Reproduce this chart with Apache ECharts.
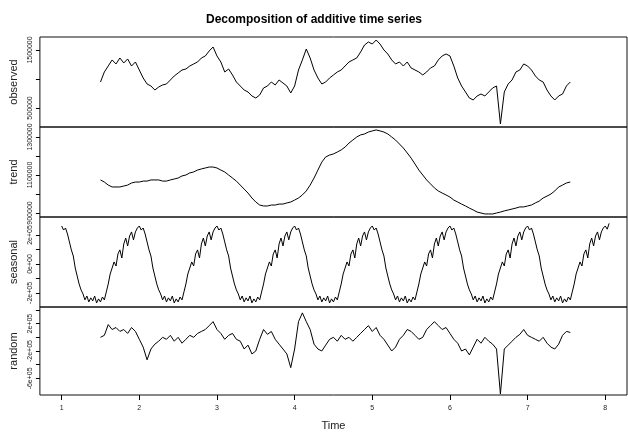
<!DOCTYPE html>
<html>
<head>
<meta charset="utf-8">
<script src="https://cdn.jsdelivr.net/npm/echarts@6/dist/echarts.min.js"></script>
<style>html,body{margin:0;padding:0;background:#fff;}#c{width:628px;height:432px;}</style>
</head>
<body>
<div id="c"></div>
<script>
// time settings
var obsStart = 1.5, obsFreq = 20;
var seasStart = 1.0, seasFreq = 40;

// observed (step 1/20 from 1.5)
var observed = [948000,1121000,1224000,1328000,1259000,1362000,1276000,1345000,1224000,1293000,
1155000,1017000,914000,879000,810000,862000,897000,914000,983000,1052000,
1103000,1155000,1172000,1224000,1259000,1293000,1362000,1397000,1483000,1552000,
1397000,1293000,1121000,1172000,1069000,948000,879000,810000,776000,707000,
672000,724000,845000,879000,948000,897000,983000,931000,879000,759000,
879000,1155000,1328000,1517000,1362000,1155000,1017000,914000,948000,1017000,
1069000,1121000,1155000,1224000,1293000,1328000,1362000,1466000,1586000,1638000,
1603000,1672000,1603000,1500000,1431000,1328000,1259000,1293000,1224000,1293000,
1190000,1155000,1121000,1069000,1121000,1190000,1224000,1328000,1397000,1431000,
1397000,1224000,1017000,879000,776000,672000,638000,707000,741000,707000,
776000,845000,879000,224000,776000,914000,983000,1121000,1155000,1259000,
1224000,1155000,1052000,983000,948000,810000,707000,638000,707000,741000,
879000,948000];

var trend = [1074000,1063000,1047000,1037000,1037000,1037000,1042000,1047000,1058000,1063000,
1063000,1068000,1068000,1074000,1074000,1074000,1068000,1068000,1074000,1079000,
1084000,1095000,1100000,1111000,1116000,1126000,1132000,1137000,1142000,1142000,
1137000,1126000,1116000,1100000,1084000,1068000,1047000,1026000,1005000,979000,
958000,942000,937000,937000,942000,942000,947000,947000,953000,958000,
968000,979000,995000,1016000,1047000,1084000,1126000,1168000,1195000,1205000,
1211000,1221000,1232000,1247000,1268000,1284000,1300000,1311000,1316000,1326000,
1332000,1337000,1332000,1326000,1316000,1300000,1284000,1263000,1242000,1216000,
1189000,1158000,1126000,1100000,1074000,1053000,1032000,1016000,1005000,995000,
984000,968000,958000,947000,937000,926000,916000,905000,900000,895000,
895000,895000,900000,905000,911000,916000,921000,926000,932000,932000,
937000,942000,953000,963000,979000,989000,1000000,1016000,1037000,1047000,
1058000,1063000];

// one seasonal cycle (40 values), repeated for each year
var seasonalCycle = [262000,234000,248000,207000,152000,97000,55000,-28000,-83000,-138000,
-179000,-207000,-248000,-221000,-262000,-234000,-255000,-221000,-269000,-241000,
-262000,-228000,-248000,-193000,-138000,-69000,-28000,14000,-14000,69000,
97000,41000,138000,179000,124000,193000,221000,166000,221000,248000];
var seasonalYears = 7;
var seasonalTail = [262000,240000,280000];

var random = [0,29000,186000,114000,143000,86000,114000,57000,143000,86000,
-29000,-143000,-329000,-171000,-100000,-57000,0,-29000,29000,-57000,
0,-86000,-29000,29000,0,57000,86000,114000,171000,229000,
114000,57000,-29000,29000,57000,-29000,-57000,-171000,-114000,-243000,
-200000,-29000,114000,43000,86000,-29000,-100000,-171000,-243000,-443000,
-171000,229000,357000,229000,114000,-100000,-171000,-200000,-114000,-29000,
0,-57000,29000,-29000,0,-57000,0,57000,114000,171000,
86000,143000,29000,-29000,-114000,-200000,-143000,-29000,29000,114000,
86000,29000,-29000,0,114000,171000,229000,171000,114000,143000,
57000,-29000,-86000,-200000,-171000,-257000,-143000,-29000,-86000,0,
-57000,-100000,-171000,-829000,-171000,-114000,-57000,0,43000,114000,
29000,0,-29000,-57000,0,-86000,-143000,-171000,-100000,29000,
86000,71000];

// axis ticks and labels
var xTicks = [1,2,3,4,5,6,7,8];
var obsTicks = [500000,1000000,1500000];
var obsLabels = [500000,1500000];
var trendTicks = [900000,1000000,1100000,1200000,1300000];
var trendLabels = [900000,1100000,1300000];
var seasTicks = [-200000,-100000,0,100000,200000];
var seasLabels = [-200000,0,200000];
var randTicks = [-600000,-400000,-200000,0,200000,400000];
var randLabels = [-600000,-200000,200000];
var sciText = {'200000':'2e+05','0':'0e+00','-200000':'-2e+05','-600000':'-6e+05'};

var seasonal = [];
for (var y = 0; y < seasonalYears; y++) seasonal = seasonal.concat(seasonalCycle);
seasonal = seasonal.concat(seasonalTail);

function toPairs(arr, start, freq) {
  return arr.map(function (v, i) { return [start + i / freq, v]; });
}

var FONT = 'Liberation Sans';
var panels = [
  {name:'observed', data: toPairs(observed, obsStart, obsFreq), min:172000, max:1724000, ticks:obsTicks, labels:obsLabels, fmt:function(v){return String(v);}},
  {name:'trend', data: toPairs(trend, obsStart, obsFreq), min:879000, max:1352600, ticks:trendTicks, labels:trendLabels, fmt:function(v){return String(v);}},
  {name:'seasonal', data: toPairs(seasonal, seasStart, seasFreq), min:-297000, max:324000, ticks:seasTicks, labels:seasLabels, fmt:function(v){return sciText[String(v)];}},
  {name:'random', data: toPairs(random, obsStart, obsFreq), min:-843000, max:443000, ticks:randTicks, labels:randLabels, fmt:function(v){return sciText[String(v)];}}
];
var tops = [37,127,217,307];

var grids = [], xAxes = [], yAxes = [], series = [];
panels.forEach(function (p, i) {
  grids.push({left:38, width:589, top:tops[i], height:90, show:true, borderColor:'#111', borderWidth:1, backgroundColor:'transparent', containLabel:false});
  var last = i === panels.length - 1;
  xAxes.push({
    gridIndex:i, type:'value', min:0.72, max:8.28, position:'bottom',
    axisLine:{show:false, onZero:false},
    axisTick:{show:last, customValues:xTicks, length:5, lineStyle:{color:'#000'}},
    axisLabel:{show:last, customValues:xTicks, fontSize:7, margin:10, color:'#222', fontFamily:FONT},
    splitLine:{show:false},
    name: last ? 'Time' : '', nameLocation:'middle', nameGap:25,
    nameTextStyle:{fontSize:11, color:'#222', fontFamily:FONT}
  });
  yAxes.push({
    gridIndex:i, type:'value', min:p.min, max:p.max, position:'left',
    axisLine:{show:false, onZero:false},
    axisTick:{show:true, customValues:p.ticks, length:4, lineStyle:{color:'#000'}},
    axisLabel:{show:true, customValues:p.labels, rotate:90, fontSize:7, margin:6, color:'#222', fontFamily:FONT, formatter:p.fmt},
    splitLine:{show:false},
    name:p.name, nameLocation:'middle', nameGap:20, nameRotate:90,
    nameTextStyle:{fontSize:11, color:'#222', fontFamily:FONT}
  });
  series.push({
    type:'line', xAxisIndex:i, yAxisIndex:i, data:p.data, showSymbol:false, symbol:'none',
    lineStyle:{color:'#000', width:1}, silent:true, clip:true
  });
});

var chart = echarts.init(document.getElementById('c'), null, {renderer:'canvas'});
chart.setOption({
  animation:false,
  backgroundColor:'#fff',
  title:{text:'Decomposition of additive time series', left:'center', top:9,
    textStyle:{fontSize:12, fontWeight:'bold', color:'#000', fontFamily:FONT}},
  grid:grids, xAxis:xAxes, yAxis:yAxes, series:series
});
</script>
</body>
</html>
